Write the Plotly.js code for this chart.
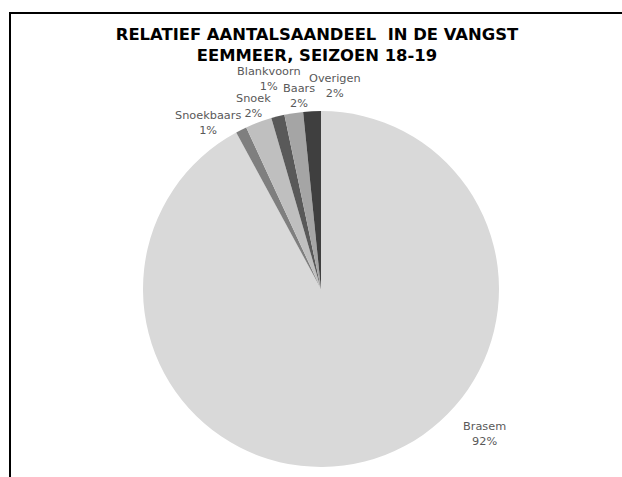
<!DOCTYPE html>
<html>
<head>
<meta charset="utf-8">
<script src="https://cdn.plot.ly/plotly-3.0.1.min.js"></script>
<style>
  html, body { margin: 0; padding: 0; background: #fff; }
  #wrap { position: relative; width: 622px; height: 477px; overflow: hidden; }
  #chart { position: absolute; left: 0; top: 0; width: 622px; height: 477px; }
  #frame { position: absolute; left: 9px; top: 12px; width: 700px; height: 600px;
           border-left: 2px solid #000; border-top: 2px solid #000; pointer-events: none; }
</style>
</head>
<body>
<div id="wrap">
  <div id="chart"></div>
  <div id="frame"></div>
</div>
<script>
const categories = ["Brasem", "Snoekbaars", "Snoek", "Blankvoorn", "Baars", "Overigen"];
const shares = [92.1, 1.0, 2.4, 1.2, 1.7, 1.6];
const sliceColors = ["#d9d9d9", "#7f7f7f", "#bfbfbf", "#595959", "#a5a5a5", "#3f3f3f"];
const titleLines = ["RELATIEF AANTALSAANDEEL  IN DE VANGST", "EEMMEER, SEIZOEN 18-19"];
// label anchor positions in pixels (centre of each two-line label), Excel-style placement
const labelPosPx = [[484, 434], [208, 123], [253, 106], [269, 79], [299, 96], [335, 86]];

const W = 622, H = 477;
const M = { l: 143, r: 123, t: 111, b: 10 };
const total = shares.reduce((a, b) => a + b, 0);
const pctText = shares.map(v => Math.round(v / total * 100) + "%");

const labelFont = { family: "DejaVu Sans, Verdana, sans-serif", size: 11.3, color: "#595959" };
const pw = W - M.l - M.r, ph = H - M.t - M.b;
const annotations = categories.map((c, i) => ({
  xref: "paper", yref: "paper",
  x: (labelPosPx[i][0] - M.l) / pw,
  y: (H - M.b - labelPosPx[i][1]) / ph,
  xanchor: "center", yanchor: "middle",
  text: c + "<br>" + pctText[i],
  showarrow: false,
  font: labelFont
}));

const trace = {
  type: "pie",
  labels: categories,
  values: shares,
  sort: false,
  direction: "clockwise",
  rotation: 0,
  marker: { colors: sliceColors, line: { width: 0 } },
  textinfo: "none",
  hoverinfo: "label+percent",
  showlegend: false
};

const layout = {
  width: W,
  height: H,
  margin: M,
  paper_bgcolor: "#fff",
  plot_bgcolor: "#fff",
  font: { family: "DejaVu Sans, Verdana, sans-serif", color: "#595959" },
  title: {
    text: "<b>" + titleLines.join("<br>") + "</b>",
    font: { family: "DejaVu Sans, Verdana, sans-serif", size: 16.4, color: "#000" },
    x: 0.5096, xanchor: "center",
    y: 0.916, yanchor: "top", yref: "container"
  },
  annotations: annotations
};

Plotly.newPlot("chart", [trace], layout, { displayModeBar: false, staticPlot: true });
</script>
</body>
</html>
